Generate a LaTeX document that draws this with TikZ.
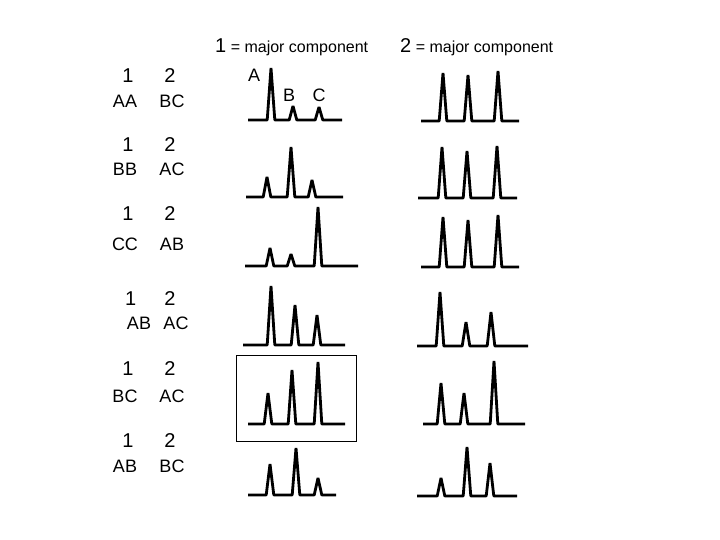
\documentclass[tikz,border=0pt]{standalone}
\usepackage{fontspec}
\setmainfont{Liberation Sans}
\tikzset{
  trace/.style={line width=2.8pt, line join=bevel},
  big/.style={font=\fontsize{20}{20}\selectfont, inner sep=0pt},
  pair/.style={font=\fontsize{18}{18}\selectfont, inner sep=0pt},
  title/.style={font=\fontsize{16}{16}\selectfont, inner sep=0pt, anchor=base west},
  peaklbl/.style={font=\fontsize{18}{18}\selectfont, inner sep=0pt},
  frame/.style={draw, line width=0.8pt}
}
\newcommand\chrom[4]{%
  \draw[trace] (#1,#3) \foreach \p/\t in {#4}{ -- (\p-3.8,#3) -- (\p,\t) -- (\p+3.8,#3)} -- (#2,#3);}
\begin{document}
\begin{tikzpicture}[x=1pt,y=-1pt]
\useasboundingbox[fill=white] (0,0) rectangle (720,540);
% titles
\node[title] (t1) at (215,53) {{\fontsize{20}{20}\selectfont 1} = major component};
\node[title] (t2) at (400,53) {{\fontsize{20}{20}\selectfont 2} = major component};
% left labels
\foreach \n/\ya/\yb/\la/\lb/\dx in {a/76/101/AA/BC/0, b/145/169/BB/AC/0, c/214/244/CC/AB/0, d/299/323/AB/AC/4, e/369/396/BC/AC/0, f/441/466/AB/BC/0}{
  \node[big] (one\n) at (128+\dx*0.7,\ya) {1};
  \node[big] (two\n) at (170,\ya) {2};
  \node[pair] (pa\n) at (125+\dx*3.5,\yb) {\la};
  \node[pair] (pb\n) at (172+\dx,\yb) {\lb};
}
% peak labels
\node[peaklbl] (lA) at (254,75) {A};
\node[peaklbl] (lB) at (289,95) {B};
\node[peaklbl] (lC) at (319,95) {C};
% box
\draw[frame] (236,355) rectangle (356,441);
% chromatograms, left column
\chrom{248}{342}{120}{271/68, 293/106, 319/107}
\chrom{246}{343}{197}{267/177, 291/147, 312/180}
\chrom{245}{358}{266}{270/248, 291/254, 318/207}
\chrom{243}{345}{345}{271/286, 295/305, 317/315}
\chrom{248}{345}{424}{268/393, 292/370, 318/362}
\chrom{248}{336}{495}{270/464, 296/448, 318/478}
% chromatograms, right column
\chrom{421}{519}{121}{443/73, 468/75, 498/71}
\chrom{418}{517}{198}{442/147, 467/151, 497/146}
\chrom{421}{519}{267}{443/217, 468/220, 498/215}
\chrom{417}{528}{346}{440/292, 466/322, 491/312}
\chrom{423}{525}{424}{441/383, 464/393, 494/361}
\chrom{417}{517}{496}{441/478, 467/447, 490/463}
\end{tikzpicture}
\end{document}
